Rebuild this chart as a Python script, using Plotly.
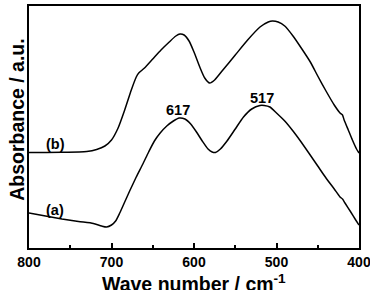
import plotly.graph_objects as go

# Curve (b) - upper spectrum
wn_b = [800, 760, 730, 718, 708, 700, 692, 684, 676, 670, 667, 660, 650, 640, 630, 622, 617, 612, 606, 600,
        593, 587, 581, 575, 565, 550, 535, 520, 510, 505, 498, 490, 480, 470, 459, 450, 440, 430, 423, 420,
        418, 413, 408, 403, 400]
py_b = [152.5, 152.3, 151.5, 149.5, 146, 140, 128, 110, 90, 77, 73, 68, 59, 50, 42, 36, 34, 35, 41, 52,
        67, 78, 83, 80, 70, 55, 40, 27, 22, 21, 22, 26, 36, 48, 62, 76, 91, 105, 113, 115,
        120, 130, 140, 149, 153]

# Curve (a) - lower spectrum
wn_a = [800, 780, 760, 740, 722, 712, 706, 700, 695, 690, 684, 678, 670, 662, 655, 648, 641, 633, 625, 618,
        611, 604, 597, 590, 583, 578, 574, 568, 560, 550, 540, 530, 520, 515, 508, 500, 490, 480, 471, 460,
        450, 440, 430, 423, 420, 417, 410, 404, 400]
py_a = [213, 216, 219, 221.5, 223.5, 226, 227, 225, 221, 213, 202, 191, 177, 164, 152, 141, 133, 126, 121, 118,
        119, 124, 132, 141, 149, 152, 152.5, 149, 141, 129, 117, 109, 105.5, 105.5, 107, 113, 121, 131, 141, 154,
        166, 178, 189, 197, 199, 203, 212, 220, 225]

PLOT_BOTTOM = 248
y_b = [PLOT_BOTTOM - v for v in py_b]
y_a = [PLOT_BOTTOM - v for v in py_a]

x_ticks = [800, 700, 600, 500, 400]
x_minor = [750, 650, 550, 450]

fig = go.Figure()
fig.add_trace(go.Scatter(x=wn_b, y=y_b, mode="lines", line=dict(color="black", width=1.5, shape="spline", smoothing=0.6)))
fig.add_trace(go.Scatter(x=wn_a, y=y_a, mode="lines", line=dict(color="black", width=1.5, shape="spline", smoothing=0.6)))

font_b = "Liberation Sans, Arial, sans-serif"
ann = [
    dict(x=619, y=138, text="<b>617</b>"),
    dict(x=517, y=150, text="<b>517</b>"),
    dict(x=768, y=104, text="<b>(b)</b>"),
    dict(x=768, y=38, text="<b>(a)</b>"),
]
for a in ann:
    fig.add_annotation(x=a["x"], y=a["y"], text=a["text"], showarrow=False,
                       font=dict(family=font_b, size=14.5, color="black"))

# axis titles
fig.add_annotation(xref="paper", yref="paper", x=0.5, y=-0.203, yanchor="bottom",
                   text="<b>Wave number / cm<sup>-1</sup></b>", showarrow=False,
                   font=dict(family=font_b, size=19.5, color="black"))
fig.add_annotation(xref="paper", yref="paper", x=-0.036, y=0.53, xanchor="center", yanchor="middle",
                   textangle=-90, text="<b>Absorbance / a.u.</b>", showarrow=False,
                   font=dict(family=font_b, size=19.5, color="black"))

fig.update_layout(
    width=370, height=290,
    margin=dict(l=29, r=11, t=6, b=42),
    paper_bgcolor="white", plot_bgcolor="white",
    showlegend=False,
    font=dict(family=font_b, color="black"),
)
fig.update_xaxes(
    range=[800, 400], tickvals=x_ticks, ticktext=[f"<b>{v}</b>" for v in x_ticks],
    ticks="inside", ticklen=5, tickwidth=1.5, tickcolor="black",
    minor=dict(tickvals=x_minor, ticks="inside", ticklen=3, tickwidth=1.5, tickcolor="black"),
    showline=True, linecolor="black", linewidth=2, mirror=True,
    showgrid=False, zeroline=False, ticklabeloverflow="allow",
    tickfont=dict(family=font_b, size=14, color="black"),
    automargin=False,
)
fig.update_yaxes(
    range=[0, 242], showticklabels=False, ticks="",
    showline=True, linecolor="black", linewidth=2, mirror=True,
    showgrid=False, zeroline=False,
    automargin=False,
)

fig.write_html("out.html")
